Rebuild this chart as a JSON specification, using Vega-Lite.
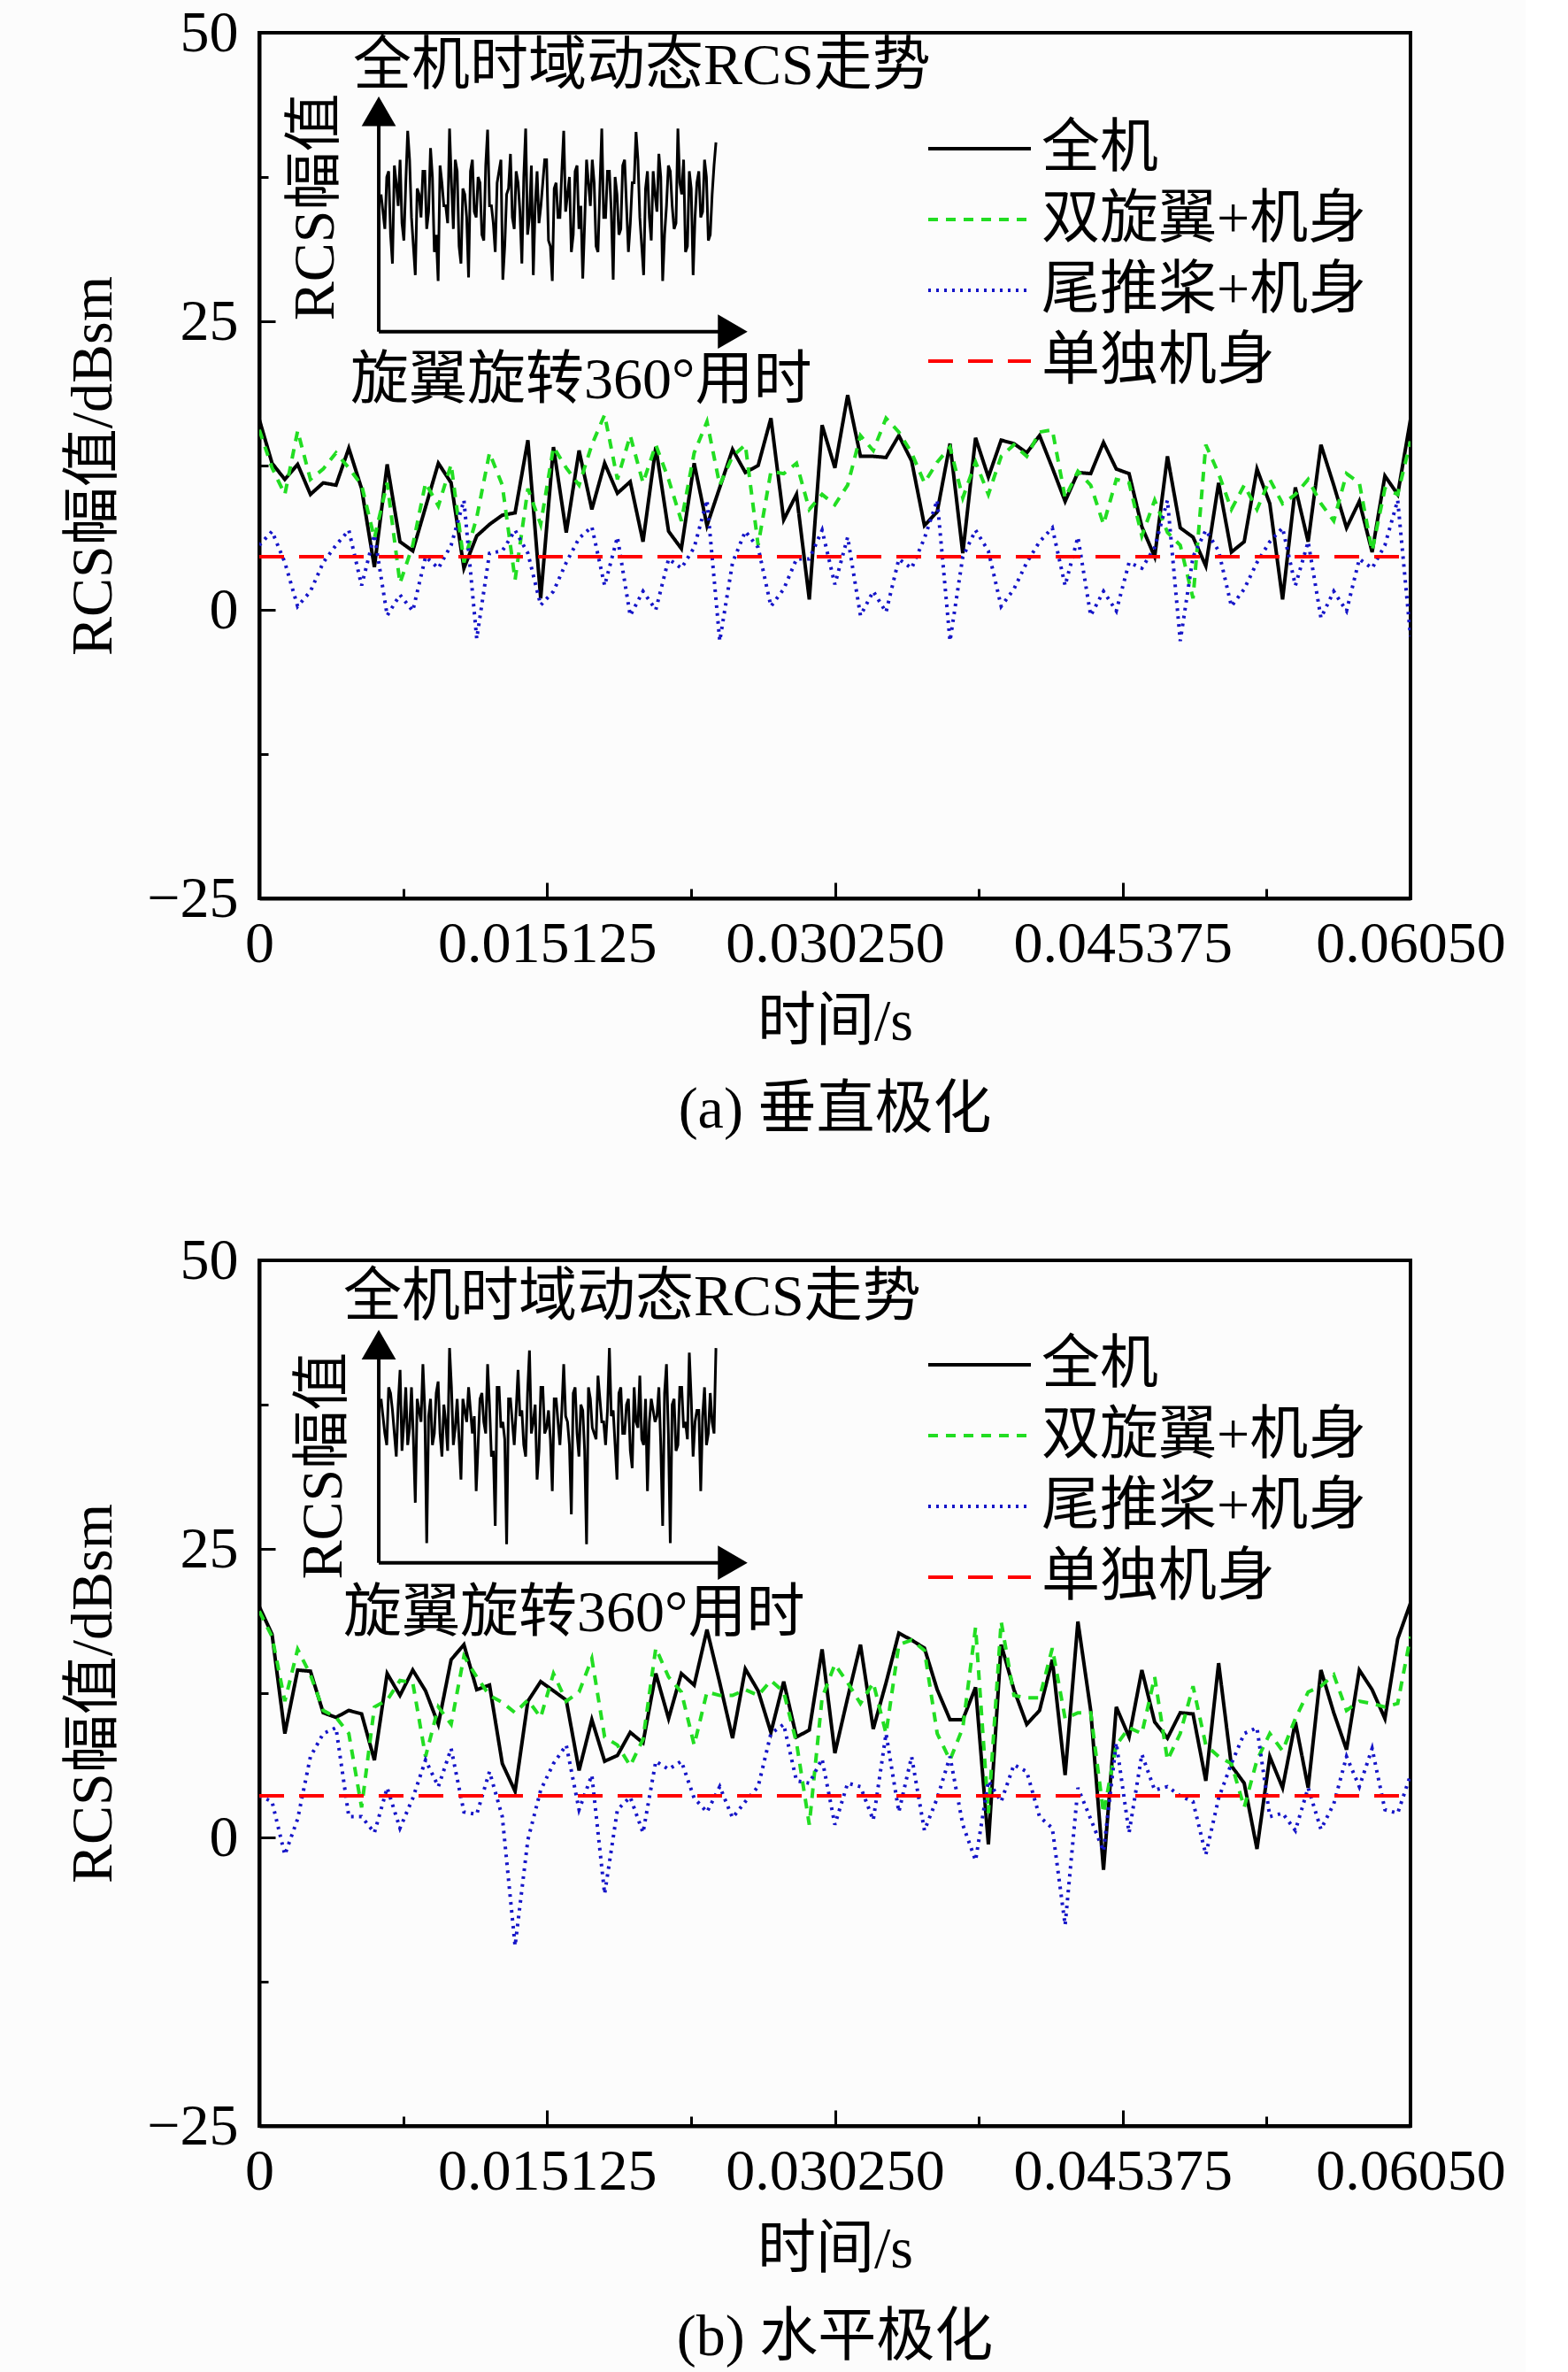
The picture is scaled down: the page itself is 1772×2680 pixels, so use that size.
{
  "$schema": "https://vega.github.io/schema/vega-lite/v6.json",
  "background": "#fcfcfc",
  "padding": {"left": 70, "top": 2, "right": 20, "bottom": 10},
  "spacing": 409,
  "bounds": "flush",
  "resolve": {
    "scale": {"color": "independent", "strokeDash": "independent"},
    "legend": {"color": "independent", "strokeDash": "independent"}
  },
  "config": {
    "font": "Liberation Serif, Noto Sans CJK SC",
    "view": {"stroke": "#000000", "strokeWidth": 4},
    "axis": {
      "grid": false,
      "domainColor": "#000000",
      "domainWidth": 4,
      "tickColor": "#000000",
      "tickWidth": 3,
      "labelFont": "Liberation Serif, Noto Sans CJK SC",
      "labelFontSize": 66,
      "labelColor": "#000000",
      "labelLimit": 0,
      "titleFont": "Liberation Serif, Noto Sans CJK SC",
      "titleFontSize": 66,
      "titleFontWeight": "normal",
      "titleColor": "#000000",
      "labelOverlap": false,
      "labelFlush": false
    },
    "legend": {
      "labelFont": "Liberation Serif, Noto Sans CJK SC",
      "labelFontSize": 66,
      "labelColor": "#000000",
      "labelLimit": 0,
      "symbolType": "stroke",
      "symbolStrokeWidth": 4,
      "symbolSize": 13456,
      "labelOffset": 10,
      "clipHeight": 78,
      "rowPadding": 2,
      "padding": 0,
      "orient": "none"
    },
    "title": {"font": "Liberation Serif, Noto Sans CJK SC", "fontSize": 66, "fontWeight": "normal", "color": "#000000"}
  },
  "datasets": {
    "vert": [
      {"t":0,"全机":16.5,"双旋翼+机身":15.6,"尾推桨+机身":5.6,"单独机身":4.6},
      {"t":0.000672,"全机":12.7,"双旋翼+机身":12.3,"尾推桨+机身":6.8,"单独机身":4.6},
      {"t":0.001344,"全机":11.3,"双旋翼+机身":10.0,"尾推桨+机身":4.1,"单独机身":4.6},
      {"t":0.002017,"全机":12.6,"双旋翼+机身":15.5,"尾推桨+机身":0.3,"单独机身":4.6},
      {"t":0.002689,"全机":10.0,"双旋翼+机身":11.3,"尾推桨+机身":1.6,"单独机身":4.6},
      {"t":0.003361,"全机":11.0,"双旋翼+机身":12.2,"尾推桨+机身":4.1,"单独机身":4.6},
      {"t":0.004033,"全机":10.8,"双旋翼+机身":13.6,"尾推桨+机身":5.6,"单独机身":4.6},
      {"t":0.004706,"全机":14.0,"双旋翼+机身":12.3,"尾推桨+机身":6.9,"单独机身":4.6},
      {"t":0.005378,"全机":10.5,"双旋翼+机身":10.8,"尾推桨+机身":2.1,"单独机身":4.6},
      {"t":0.00605,"全机":3.7,"双旋翼+机身":6.2,"尾推桨+机身":6.5,"单独机身":4.6},
      {"t":0.006722,"全机":12.6,"双旋翼+机身":11.0,"尾推桨+机身":-0.5,"单独机身":4.6},
      {"t":0.007394,"全机":5.9,"双旋翼+机身":2.3,"尾推桨+机身":1.3,"单独机身":4.6},
      {"t":0.008067,"全机":5.1,"双旋翼+机身":5.6,"尾推桨+机身":-0.1,"单独机身":4.6},
      {"t":0.008739,"全机":8.9,"双旋翼+机身":11.0,"尾推桨+机身":4.6,"单独机身":4.6},
      {"t":0.009411,"全机":12.7,"双旋翼+机身":9.0,"尾推桨+机身":3.6,"单独机身":4.6},
      {"t":0.010083,"全机":11.0,"双旋翼+机身":12.6,"尾推桨+机身":5.6,"单独机身":4.6},
      {"t":0.010756,"全机":3.6,"双旋翼+机身":4.1,"尾推桨+机身":9.5,"单独机身":4.6},
      {"t":0.011428,"全机":6.4,"双旋翼+机身":8.0,"尾推桨+机身":-2.5,"单独机身":4.6},
      {"t":0.0121,"全机":7.4,"双旋翼+机身":13.6,"尾推桨+机身":4.9,"单独机身":4.6},
      {"t":0.012772,"全机":8.2,"双旋翼+机身":10.8,"尾推桨+机身":5.1,"单独机身":4.6},
      {"t":0.013444,"全机":8.4,"双旋翼+机身":2.6,"尾推桨+机身":6.9,"单独机身":4.6},
      {"t":0.014117,"全机":14.7,"双旋翼+机身":10.5,"尾推桨+机身":4.9,"单独机身":4.6},
      {"t":0.014789,"全机":1.0,"双旋翼+机身":7.4,"尾推桨+机身":0.4,"单独机身":4.6},
      {"t":0.015461,"全机":14.1,"双旋翼+机身":14.1,"尾推桨+机身":1.6,"单独机身":4.6},
      {"t":0.016133,"全机":6.7,"双旋翼+机身":12.3,"尾推桨+机身":4.1,"单独机身":4.6},
      {"t":0.016806,"全机":13.8,"双旋翼+机身":10.8,"尾推桨+机身":6.2,"单独机身":4.6},
      {"t":0.017478,"全机":8.7,"双旋翼+机身":14.3,"尾推桨+机身":7.2,"单独机身":4.6},
      {"t":0.01815,"全机":12.7,"双旋翼+机身":16.9,"尾推桨+机身":2.1,"单独机身":4.6},
      {"t":0.018822,"全机":10.1,"双旋翼+机身":11.3,"尾推桨+机身":6.3,"单独机身":4.6},
      {"t":0.019494,"全机":11.1,"双旋翼+机身":15.1,"尾推桨+机身":-0.5,"单独机身":4.6},
      {"t":0.020167,"全机":5.9,"双旋翼+机身":11.0,"尾推桨+机身":1.6,"单独机身":4.6},
      {"t":0.020839,"全机":14.1,"双旋翼+机身":14.3,"尾推桨+机身":0.0,"单独机身":4.6},
      {"t":0.021511,"全机":6.8,"双旋翼+机身":11.3,"尾推桨+机身":4.4,"单独机身":4.6},
      {"t":0.022183,"全机":5.3,"双旋翼+机身":7.7,"尾推桨+机身":3.6,"单独机身":4.6},
      {"t":0.022856,"全机":12.7,"双旋翼+机身":13.6,"尾推桨+机身":5.4,"单独机身":4.6},
      {"t":0.023528,"全机":7.3,"双旋翼+机身":16.3,"尾推桨+机身":9.5,"单独机身":4.6},
      {"t":0.0242,"全机":10.6,"双旋翼+机身":10.8,"尾推桨+机身":-2.7,"单独机身":4.6},
      {"t":0.024872,"全机":13.9,"双旋翼+机身":13.3,"尾推桨+机身":4.1,"单独机身":4.6},
      {"t":0.025544,"全机":11.9,"双旋翼+机身":14.3,"尾推桨+机身":6.8,"单独机身":4.6},
      {"t":0.026217,"全机":12.5,"双旋翼+机身":5.6,"尾推桨+机身":5.4,"单独机身":4.6},
      {"t":0.026889,"全机":16.6,"双旋翼+机身":12.0,"尾推桨+机身":0.3,"单独机身":4.6},
      {"t":0.027561,"全机":7.8,"双旋翼+机身":11.8,"尾推桨+机身":1.8,"单独机身":4.6},
      {"t":0.028233,"全机":10.0,"双旋翼+机身":12.7,"尾推桨+机身":4.4,"单独机身":4.6},
      {"t":0.028906,"全机":0.9,"双旋翼+机身":8.7,"尾推桨+机身":4.4,"单独机身":4.6},
      {"t":0.029578,"全机":16.0,"双旋翼+机身":10.0,"尾推桨+机身":6.9,"单独机身":4.6},
      {"t":0.03025,"全机":12.3,"双旋翼+机身":9.1,"尾推桨+机身":2.2,"单独机身":4.6},
      {"t":0.030922,"全机":18.6,"双旋翼+机身":10.8,"尾推桨+机身":6.3,"单独机身":4.6},
      {"t":0.031594,"全机":13.3,"双旋翼+机身":15.1,"尾推桨+机身":-0.5,"单独机身":4.6},
      {"t":0.032267,"全机":13.3,"双旋翼+机身":13.8,"尾推桨+机身":1.6,"单独机身":4.6},
      {"t":0.032939,"全机":13.2,"双旋翼+机身":16.6,"尾推桨+机身":-0.2,"单独机身":4.6},
      {"t":0.033611,"全机":15.1,"双旋翼+机身":15.4,"尾推桨+机身":4.4,"单独机身":4.6},
      {"t":0.034283,"全机":12.9,"双旋翼+机身":13.6,"尾推桨+机身":3.6,"单独机身":4.6},
      {"t":0.034956,"全机":7.3,"双旋翼+机身":11.0,"尾推桨+机身":6.2,"单独机身":4.6},
      {"t":0.035628,"全机":8.5,"双旋翼+机身":12.8,"尾推桨+机身":9.5,"单独机身":4.6},
      {"t":0.0363,"全机":14.4,"双旋翼+机身":14.1,"尾推桨+机身":-2.7,"单独机身":4.6},
      {"t":0.036972,"全机":4.9,"双旋翼+机身":9.7,"尾推桨+机身":4.6,"单独机身":4.6},
      {"t":0.037644,"全机":14.9,"双旋翼+机身":12.8,"尾推桨+机身":6.9,"单独机身":4.6},
      {"t":0.038317,"全机":11.5,"双旋翼+机身":10.0,"尾推桨+机身":5.1,"单独机身":4.6},
      {"t":0.038989,"全机":14.7,"双旋翼+机身":13.3,"尾推桨+机身":0.3,"单独机身":4.6},
      {"t":0.039661,"全机":14.4,"双旋翼+机身":14.3,"尾推桨+机身":1.8,"单独机身":4.6},
      {"t":0.040333,"全机":13.6,"双旋翼+机身":13.3,"尾推桨+机身":4.1,"单独机身":4.6},
      {"t":0.041006,"全机":15.1,"双旋翼+机身":15.4,"尾推桨+机身":5.9,"单独机身":4.6},
      {"t":0.041678,"全机":12.3,"双旋翼+机身":15.6,"尾推桨+机身":7.1,"单独机身":4.6},
      {"t":0.04235,"全机":9.4,"双旋翼+机身":9.7,"尾推桨+机身":2.1,"单独机身":4.6},
      {"t":0.043022,"全机":11.9,"双旋翼+机身":12.0,"尾推桨+机身":6.3,"单独机身":4.6},
      {"t":0.043694,"全机":11.8,"双旋翼+机身":10.8,"尾推桨+机身":-0.5,"单独机身":4.6},
      {"t":0.044367,"全机":14.5,"双旋翼+机身":7.4,"尾推桨+机身":1.6,"单独机身":4.6},
      {"t":0.045039,"全机":12.2,"双旋翼+机身":11.3,"尾推桨+机身":-0.1,"单独机身":4.6},
      {"t":0.045711,"全机":11.8,"双旋翼+机身":11.0,"尾推桨+机身":4.1,"单独机身":4.6},
      {"t":0.046383,"全机":7.2,"双旋翼+机身":6.4,"尾推桨+机身":3.6,"单独机身":4.6},
      {"t":0.047056,"全机":4.6,"双旋翼+机身":9.5,"尾推桨+机身":5.4,"单独机身":4.6},
      {"t":0.047728,"全机":13.3,"双旋翼+机身":6.7,"尾推桨+机身":9.5,"单独机身":4.6},
      {"t":0.0484,"全机":7.1,"双旋翼+机身":5.6,"尾推桨+机身":-2.7,"单独机身":4.6},
      {"t":0.049072,"全机":6.3,"双旋翼+机身":1.0,"尾推桨+机身":4.6,"单独机身":4.6},
      {"t":0.049744,"全机":3.8,"双旋翼+机身":14.3,"尾推桨+机身":6.9,"单独机身":4.6},
      {"t":0.050417,"全机":11.0,"双旋翼+机身":11.8,"尾推桨+机身":5.1,"单独机身":4.6},
      {"t":0.051089,"全机":5.0,"双旋翼+机身":8.7,"尾推桨+机身":0.3,"单独机身":4.6},
      {"t":0.051761,"全机":5.9,"双旋翼+机身":10.8,"尾推桨+机身":1.8,"单独机身":4.6},
      {"t":0.052433,"全机":12.2,"双旋翼+机身":8.7,"尾推桨+机身":4.1,"单独机身":4.6},
      {"t":0.053106,"全机":9.2,"双旋翼+机身":11.3,"尾推桨+机身":5.9,"单独机身":4.6},
      {"t":0.053778,"全机":0.9,"双旋翼+机身":9.2,"尾推桨+机身":7.1,"单独机身":4.6},
      {"t":0.05445,"全机":10.6,"双旋翼+机身":10.0,"尾推桨+机身":2.1,"单独机身":4.6},
      {"t":0.055122,"全机":5.9,"双旋翼+机身":11.3,"尾推桨+机身":5.9,"单独机身":4.6},
      {"t":0.055794,"全机":14.3,"双旋翼+机身":9.2,"尾推桨+机身":-0.7,"单独机身":4.6},
      {"t":0.056467,"全机":10.8,"双旋翼+机身":7.7,"尾推桨+机身":1.6,"单独机身":4.6},
      {"t":0.057139,"全机":7.1,"双旋翼+机身":11.8,"尾推桨+机身":-0.1,"单独机身":4.6},
      {"t":0.057811,"全机":9.4,"双旋翼+机身":11.0,"尾推桨+机身":4.4,"单独机身":4.6},
      {"t":0.058483,"全机":5.0,"双旋翼+机身":5.1,"尾推桨+机身":3.6,"单独机身":4.6},
      {"t":0.059156,"全机":11.6,"双旋翼+机身":10.5,"尾推桨+机身":5.6,"单独机身":4.6},
      {"t":0.059828,"全机":10.0,"双旋翼+机身":10.0,"尾推桨+机身":9.5,"单独机身":4.6},
      {"t":0.0605,"全机":16.5,"双旋翼+机身":14.6,"尾推桨+机身":-2.3,"单独机身":4.6}
    ],
    "horiz": [
      {"t":0,"全机":20.0,"双旋翼+机身":19.6,"尾推桨+机身":3.6,"单独机身":3.6},
      {"t":0.000672,"全机":17.6,"双旋翼+机身":17.4,"尾推桨+机身":3.1,"单独机身":3.6},
      {"t":0.001344,"全机":9.0,"双旋翼+机身":11.8,"尾推桨+机身":-1.5,"单独机身":3.6},
      {"t":0.002017,"全机":14.5,"双旋翼+机身":16.3,"尾推桨+机身":1.6,"单独机身":3.6},
      {"t":0.002689,"全机":14.4,"双旋翼+机身":14.1,"尾推桨+机身":7.0,"单独机身":3.6},
      {"t":0.003361,"全机":10.8,"双旋翼+机身":11.0,"尾推桨+机身":9.0,"单独机身":3.6},
      {"t":0.004033,"全机":10.4,"双旋翼+机身":10.4,"尾推桨+机身":9.5,"单独机身":3.6},
      {"t":0.004706,"全机":11.0,"双旋翼+机身":9.0,"尾推桨+机身":1.8,"单独机身":3.6},
      {"t":0.005378,"全机":10.7,"双旋翼+机身":2.6,"尾推桨+机身":1.8,"单独机身":3.6},
      {"t":0.00605,"全机":6.7,"双旋翼+机身":11.3,"尾推桨+机身":0.4,"单独机身":3.6},
      {"t":0.006722,"全机":14.2,"双旋翼+机身":11.9,"尾推桨+机身":4.3,"单独机身":3.6},
      {"t":0.007394,"全机":12.3,"双旋翼+机身":13.6,"尾推桨+机身":0.8,"单独机身":3.6},
      {"t":0.008067,"全机":14.5,"双旋翼+机身":13.4,"尾推桨+机身":3.4,"单独机身":3.6},
      {"t":0.008739,"全机":12.7,"双旋翼+机身":7.0,"尾推桨+机身":6.7,"单独机身":3.6},
      {"t":0.009411,"全机":9.8,"双旋翼+机身":11.3,"尾推桨+机身":4.4,"单独机身":3.6},
      {"t":0.010083,"全机":15.4,"双旋翼+机身":9.8,"尾推桨+机身":7.7,"单独机身":3.6},
      {"t":0.010756,"全机":16.7,"双旋翼+机身":15.7,"尾推桨+机身":2.2,"单独机身":3.6},
      {"t":0.011428,"全机":12.8,"双旋翼+机身":13.9,"尾推桨+机身":2.0,"单独机身":3.6},
      {"t":0.0121,"全机":13.2,"双旋翼+机身":12.3,"尾推桨+机身":5.7,"单独机身":3.6},
      {"t":0.012772,"全机":6.4,"双旋翼+机身":11.7,"尾推桨+机身":1.8,"单独机身":3.6},
      {"t":0.013444,"全机":4.0,"双旋翼+机身":10.8,"尾推桨+机身":-9.4,"单独机身":3.6},
      {"t":0.014117,"全机":11.8,"双旋翼+机身":11.9,"尾推桨+机身":-0.2,"单独机身":3.6},
      {"t":0.014789,"全机":13.5,"双旋翼+机身":10.4,"尾推桨+机身":4.1,"单独机身":3.6},
      {"t":0.015461,"全机":12.7,"双旋翼+机身":14.2,"尾推桨+机身":6.4,"单独机身":3.6},
      {"t":0.016133,"全机":11.9,"双旋翼+机身":11.8,"尾推桨+机身":8.0,"单独机身":3.6},
      {"t":0.016806,"全机":5.8,"双旋翼+机身":12.6,"尾推桨+机身":2.4,"单独机身":3.6},
      {"t":0.017478,"全机":10.2,"双旋翼+机身":15.5,"尾推桨+机身":5.4,"单独机身":3.6},
      {"t":0.01815,"全机":6.6,"双旋翼+机身":8.7,"尾推桨+机身":-4.9,"单独机身":3.6},
      {"t":0.018822,"全机":7.1,"双旋翼+机身":8.0,"尾推桨+机身":2.4,"单独机身":3.6},
      {"t":0.019494,"全机":9.1,"双旋翼+机身":6.2,"尾推桨+机身":3.5,"单独机身":3.6},
      {"t":0.020167,"全机":8.2,"双旋翼+机身":8.5,"尾推桨+机身":0.4,"单独机身":3.6},
      {"t":0.020839,"全机":14.2,"双旋翼+机身":16.4,"尾推桨+机身":6.6,"单独机身":3.6},
      {"t":0.021511,"全机":10.3,"双旋翼+机身":13.9,"尾推桨+机身":5.9,"单独机身":3.6},
      {"t":0.022183,"全机":14.2,"双旋翼+机身":12.6,"尾推桨+机身":6.6,"单独机身":3.6},
      {"t":0.022856,"全机":13.2,"双旋翼+机身":8.0,"尾推桨+机身":3.4,"单独机身":3.6},
      {"t":0.023528,"全机":18.0,"双旋翼+机身":12.6,"尾推桨+机身":2.2,"单独机身":3.6},
      {"t":0.0242,"全机":13.4,"双旋翼+机身":12.3,"尾推桨+机身":4.4,"单独机身":3.6},
      {"t":0.024872,"全机":8.6,"双旋翼+机身":12.3,"尾推桨+机身":1.7,"单独机身":3.6},
      {"t":0.025544,"全机":14.6,"双旋翼+机身":12.8,"尾推桨+机身":3.1,"单独机身":3.6},
      {"t":0.026217,"全机":12.7,"双旋翼+机身":12.3,"尾推桨+机身":4.4,"单独机身":3.6},
      {"t":0.026889,"全机":9.1,"双旋翼+机身":13.6,"尾推桨+机身":9.0,"单独机身":3.6},
      {"t":0.027561,"全机":13.5,"双旋翼+机身":12.6,"尾推桨+机身":9.8,"单独机身":3.6},
      {"t":0.028233,"全机":8.7,"双旋翼+机身":8.2,"尾推桨+机身":4.9,"单独机身":3.6},
      {"t":0.028906,"全机":9.3,"双旋翼+机身":1.1,"尾推桨+机身":4.7,"单独机身":3.6},
      {"t":0.029578,"全机":16.3,"双旋翼+机身":12.1,"尾推桨+机身":6.8,"单独机身":3.6},
      {"t":0.03025,"全机":7.3,"双旋翼+机身":15.0,"尾推桨+机身":1.1,"单独机身":3.6},
      {"t":0.030922,"全机":12.1,"双旋翼+机身":13.4,"尾推桨+机身":4.7,"单独机身":3.6},
      {"t":0.031594,"全机":16.7,"双旋翼+机身":11.6,"尾推桨+机身":4.4,"单独机身":3.6},
      {"t":0.032267,"全机":9.4,"双旋翼+机身":13.4,"尾推桨+机身":1.5,"单独机身":3.6},
      {"t":0.032939,"全机":13.4,"双旋翼+机身":9.0,"尾推桨+机身":9.0,"单独机身":3.6},
      {"t":0.033611,"全机":17.7,"双旋翼+机身":16.7,"尾推桨+机身":2.2,"单独机身":3.6},
      {"t":0.034283,"全机":17.1,"双旋翼+机身":17.1,"尾推桨+机身":7.0,"单独机身":3.6},
      {"t":0.034956,"全机":16.4,"双旋翼+机身":16.2,"尾推桨+机身":0.6,"单独机身":3.6},
      {"t":0.035628,"全机":12.8,"双旋翼+机身":9.0,"尾推桨+机身":3.4,"单独机身":3.6},
      {"t":0.0363,"全机":10.2,"双旋翼+机身":6.7,"尾推桨+机身":7.0,"单独机身":3.6},
      {"t":0.036972,"全机":10.2,"双旋翼+机身":9.5,"尾推桨+机身":1.1,"单独机身":3.6},
      {"t":0.037644,"全机":13.0,"双旋翼+机身":18.2,"尾推桨+机身":-2.0,"单独机身":3.6},
      {"t":0.038317,"全机":-0.6,"双旋翼+机身":2.1,"尾推桨+机身":4.9,"单独机身":3.6},
      {"t":0.038989,"全机":16.7,"双旋翼+机身":18.7,"尾推桨+机身":3.1,"单独机身":3.6},
      {"t":0.039661,"全机":12.8,"双旋翼+机身":12.3,"尾推桨+机身":6.3,"单独机身":3.6},
      {"t":0.040333,"全机":9.8,"双旋翼+机身":12.1,"尾推桨+机身":5.7,"单独机身":3.6},
      {"t":0.041006,"全机":11.0,"双旋翼+机身":12.1,"尾推桨+机身":1.8,"单独机身":3.6},
      {"t":0.041678,"全机":15.4,"双旋翼+机身":16.4,"尾推桨+机身":0.8,"单独机身":3.6},
      {"t":0.04235,"全机":5.4,"双旋翼+机身":10.3,"尾推桨+机身":-7.6,"单独机身":3.6},
      {"t":0.043022,"全机":18.7,"双旋翼+机身":10.8,"尾推桨+机身":4.3,"单独机身":3.6},
      {"t":0.043694,"全机":11.0,"双旋翼+机身":10.8,"尾推桨+机身":1.6,"单独机身":3.6},
      {"t":0.044367,"全机":-2.8,"双旋翼+机身":2.1,"尾推桨+机身":-1.2,"单独机身":3.6},
      {"t":0.045039,"全机":11.3,"双旋翼+机身":8.0,"尾推桨+机身":8.2,"单独机身":3.6},
      {"t":0.045711,"全机":8.7,"双旋翼+机身":9.5,"尾推桨+机身":0.4,"单独机身":3.6},
      {"t":0.046383,"全机":14.5,"双旋翼+机身":9.0,"尾推桨+机身":7.2,"单独机身":3.6},
      {"t":0.047056,"全机":10.0,"双旋翼+机身":13.9,"尾推桨+机身":4.1,"单独机身":3.6},
      {"t":0.047728,"全机":8.6,"双旋翼+机身":6.7,"尾推桨+机身":4.4,"单独机身":3.6},
      {"t":0.0484,"全机":10.8,"双旋翼+机身":9.0,"尾推桨+机身":3.6,"单独机身":3.6},
      {"t":0.049072,"全机":10.7,"双旋翼+机身":13.1,"尾推桨+机身":3.1,"单独机身":3.6},
      {"t":0.049744,"全机":4.9,"双旋翼+机身":8.0,"尾推桨+机身":-1.5,"单独机身":3.6},
      {"t":0.050417,"全机":15.1,"双旋翼+机身":7.0,"尾推桨+机身":3.4,"单独机身":3.6},
      {"t":0.051089,"全机":6.2,"双旋翼+机身":6.4,"尾推桨+机身":6.4,"单独机身":3.6},
      {"t":0.051761,"全机":4.7,"双旋翼+机身":2.6,"尾推桨+机身":9.0,"单独机身":3.6},
      {"t":0.052433,"全机":-1.0,"双旋翼+机身":6.7,"尾推桨+机身":9.5,"单独机身":3.6},
      {"t":0.053106,"全机":7.0,"双旋翼+机身":9.0,"尾推桨+机身":1.8,"单独机身":3.6},
      {"t":0.053778,"全机":4.3,"双旋翼+机身":7.5,"尾推桨+机身":2.1,"单独机身":3.6},
      {"t":0.05445,"全机":10.0,"双旋翼+机身":10.3,"尾推桨+机身":0.6,"单独机身":3.6},
      {"t":0.055122,"全机":4.3,"双旋翼+机身":12.6,"尾推桨+机身":4.3,"单独机身":3.6},
      {"t":0.055794,"全机":14.5,"双旋翼+机身":13.1,"尾推桨+机身":0.7,"单独机身":3.6},
      {"t":0.056467,"全机":10.8,"双旋翼+机身":14.1,"尾推桨+机身":2.9,"单独机身":3.6},
      {"t":0.057139,"全机":7.6,"双旋翼+机身":11.0,"尾推桨+机身":7.0,"单独机身":3.6},
      {"t":0.057811,"全机":14.5,"双旋翼+机身":11.8,"尾推桨+机身":4.4,"单独机身":3.6},
      {"t":0.058483,"全机":12.8,"双旋翼+机身":11.6,"尾推桨+机身":7.7,"单独机身":3.6},
      {"t":0.059156,"全机":10.3,"双旋翼+机身":11.3,"尾推桨+机身":2.4,"单独机身":3.6},
      {"t":0.059828,"全机":17.2,"双旋翼+机身":11.6,"尾推桨+机身":2.1,"单独机身":3.6},
      {"t":0.0605,"全机":20.3,"双旋翼+机身":17.4,"尾推桨+机身":5.4,"单独机身":3.6}
    ],
    "inset_a": [
      {"t":0.0064,"RCS":36},{"t":0.0065,"RCS":34.5},{"t":0.0066,"RCS":33},{"t":0.0067,"RCS":37.5},
      {"t":0.0068,"RCS":38},{"t":0.0069,"RCS":32.5},{"t":0.0070,"RCS":30},{"t":0.0071,"RCS":38.5},
      {"t":0.0072,"RCS":37},{"t":0.0073,"RCS":35},{"t":0.0074,"RCS":39},{"t":0.0075,"RCS":33.5},
      {"t":0.0076,"RCS":32},{"t":0.0077,"RCS":37},{"t":0.0078,"RCS":41.5},{"t":0.0079,"RCS":39},
      {"t":0.0080,"RCS":34},{"t":0.0081,"RCS":31.5},{"t":0.0082,"RCS":29},{"t":0.0083,"RCS":36.5},
      {"t":0.0084,"RCS":36},{"t":0.0085,"RCS":34},{"t":0.0086,"RCS":38},{"t":0.0087,"RCS":38},
      {"t":0.0088,"RCS":33},{"t":0.0089,"RCS":34.5},{"t":0.0090,"RCS":40},{"t":0.0091,"RCS":37.5},
      {"t":0.0092,"RCS":31},{"t":0.0093,"RCS":32.5},{"t":0.0094,"RCS":28.5},{"t":0.0095,"RCS":38.5},
      {"t":0.0096,"RCS":37},{"t":0.0097,"RCS":35},{"t":0.0098,"RCS":35},{"t":0.0099,"RCS":33.5},
      {"t":0.0100,"RCS":41.7},{"t":0.0101,"RCS":37},{"t":0.0102,"RCS":33},{"t":0.0103,"RCS":39},
      {"t":0.0104,"RCS":38},{"t":0.0105,"RCS":31.5},{"t":0.0106,"RCS":30},{"t":0.0107,"RCS":36.5},
      {"t":0.0108,"RCS":36},{"t":0.0109,"RCS":34},{"t":0.0110,"RCS":28.8},{"t":0.0111,"RCS":38},
      {"t":0.0112,"RCS":39},{"t":0.0113,"RCS":34.5},{"t":0.0114,"RCS":34},{"t":0.0115,"RCS":37.5},
      {"t":0.0116,"RCS":37},{"t":0.0117,"RCS":32.5},{"t":0.0118,"RCS":32},{"t":0.0119,"RCS":38.5},
      {"t":0.0120,"RCS":41.6},{"t":0.0121,"RCS":35},{"t":0.0122,"RCS":35},{"t":0.0123,"RCS":33.5},
      {"t":0.0124,"RCS":31},{"t":0.0125,"RCS":37},{"t":0.0126,"RCS":38},{"t":0.0127,"RCS":39},
      {"t":0.0128,"RCS":28.6},{"t":0.0129,"RCS":31.5},{"t":0.0130,"RCS":36},{"t":0.0131,"RCS":36.5},
      {"t":0.0132,"RCS":39.5},{"t":0.0133,"RCS":34},{"t":0.0134,"RCS":33},{"t":0.0135,"RCS":38},
      {"t":0.0136,"RCS":37},{"t":0.0137,"RCS":34.5},{"t":0.0138,"RCS":30},{"t":0.0139,"RCS":37.5},
      {"t":0.0140,"RCS":41.7},{"t":0.0141,"RCS":32.5},{"t":0.0142,"RCS":34},{"t":0.0143,"RCS":38.5},
      {"t":0.0144,"RCS":29},{"t":0.0145,"RCS":35},{"t":0.0146,"RCS":38},{"t":0.0147,"RCS":33.5},
      {"t":0.0148,"RCS":35},{"t":0.0149,"RCS":37},{"t":0.0150,"RCS":39},{"t":0.0151,"RCS":39},
      {"t":0.0152,"RCS":32},{"t":0.0153,"RCS":31.5},{"t":0.0154,"RCS":28.5},{"t":0.0155,"RCS":36.5},
      {"t":0.0156,"RCS":37},{"t":0.0157,"RCS":34},{"t":0.0158,"RCS":34},{"t":0.0159,"RCS":38},
      {"t":0.0160,"RCS":41.5},{"t":0.0161,"RCS":34.5},{"t":0.0162,"RCS":36},{"t":0.0163,"RCS":37.5},
      {"t":0.0164,"RCS":31},{"t":0.0165,"RCS":32.5},{"t":0.0166,"RCS":38},{"t":0.0167,"RCS":38.5},
      {"t":0.0168,"RCS":33},{"t":0.0169,"RCS":35},{"t":0.0170,"RCS":28.7},{"t":0.0171,"RCS":33.5},
      {"t":0.0172,"RCS":39},{"t":0.0173,"RCS":37},{"t":0.0174,"RCS":35},{"t":0.0175,"RCS":39},
      {"t":0.0176,"RCS":37},{"t":0.0177,"RCS":31.5},{"t":0.0178,"RCS":31},{"t":0.0179,"RCS":36.5},
      {"t":0.0180,"RCS":41.7},{"t":0.0181,"RCS":34},{"t":0.0182,"RCS":34},{"t":0.0183,"RCS":38},
      {"t":0.0184,"RCS":38},{"t":0.0185,"RCS":34.5},{"t":0.0186,"RCS":28.6},{"t":0.0187,"RCS":37.5},
      {"t":0.0188,"RCS":36},{"t":0.0189,"RCS":32.5},{"t":0.0190,"RCS":33},{"t":0.0191,"RCS":38.5},
      {"t":0.0192,"RCS":39},{"t":0.0193,"RCS":35},{"t":0.0194,"RCS":31},{"t":0.0195,"RCS":33.5},
      {"t":0.0196,"RCS":37},{"t":0.0197,"RCS":37},{"t":0.0198,"RCS":41.4},{"t":0.0199,"RCS":39},
      {"t":0.0200,"RCS":34},{"t":0.0201,"RCS":31.5},{"t":0.0202,"RCS":29},{"t":0.0203,"RCS":36.5},
      {"t":0.0204,"RCS":38},{"t":0.0205,"RCS":34},{"t":0.0206,"RCS":32},{"t":0.0207,"RCS":38},
      {"t":0.0208,"RCS":36},{"t":0.0209,"RCS":34.5},{"t":0.0210,"RCS":39.5},{"t":0.0211,"RCS":37.5},
      {"t":0.0212,"RCS":28.5},{"t":0.0213,"RCS":32.5},{"t":0.0214,"RCS":35},{"t":0.0215,"RCS":38.5},
      {"t":0.0216,"RCS":38},{"t":0.0217,"RCS":35},{"t":0.0218,"RCS":33},{"t":0.0219,"RCS":33.5},
      {"t":0.0220,"RCS":41.7},{"t":0.0221,"RCS":37},{"t":0.0222,"RCS":36},{"t":0.0223,"RCS":39},
      {"t":0.0224,"RCS":31},{"t":0.0225,"RCS":31.5},{"t":0.0226,"RCS":38},{"t":0.0227,"RCS":36.5},
      {"t":0.0228,"RCS":29},{"t":0.0229,"RCS":34},{"t":0.0230,"RCS":37},{"t":0.0231,"RCS":38},
      {"t":0.0232,"RCS":34},{"t":0.0233,"RCS":34.5},{"t":0.0234,"RCS":39},{"t":0.0235,"RCS":37.5},
      {"t":0.0236,"RCS":32},{"t":0.0237,"RCS":32.5},{"t":0.0238,"RCS":36},{"t":0.0239,"RCS":38.5},
      {"t":0.0240,"RCS":40.5}
    ],
    "inset_b": [
      {"t":0.0064,"RCS":38},{"t":0.0065,"RCS":36.5},{"t":0.0066,"RCS":35},{"t":0.0067,"RCS":34},
      {"t":0.0068,"RCS":39},{"t":0.0069,"RCS":38.5},{"t":0.0070,"RCS":37},{"t":0.0071,"RCS":35},
      {"t":0.0072,"RCS":33},{"t":0.0073,"RCS":37.5},{"t":0.0074,"RCS":40.5},{"t":0.0075,"RCS":33.5},
      {"t":0.0076,"RCS":36},{"t":0.0077,"RCS":39},{"t":0.0078,"RCS":34},{"t":0.0079,"RCS":35.5},
      {"t":0.0080,"RCS":39},{"t":0.0081,"RCS":34.5},{"t":0.0082,"RCS":29},{"t":0.0083,"RCS":38},
      {"t":0.0084,"RCS":37},{"t":0.0085,"RCS":36},{"t":0.0086,"RCS":41},{"t":0.0087,"RCS":37},
      {"t":0.0088,"RCS":25.5},{"t":0.0089,"RCS":36.5},{"t":0.0090,"RCS":38},{"t":0.0091,"RCS":34},
      {"t":0.0092,"RCS":35},{"t":0.0093,"RCS":38.5},{"t":0.0094,"RCS":39.5},{"t":0.0095,"RCS":35},
      {"t":0.0096,"RCS":33},{"t":0.0097,"RCS":37.5},{"t":0.0098,"RCS":36},{"t":0.0099,"RCS":33.5},
      {"t":0.0100,"RCS":42.4},{"t":0.0101,"RCS":39},{"t":0.0102,"RCS":34},{"t":0.0103,"RCS":35.5},
      {"t":0.0104,"RCS":38},{"t":0.0105,"RCS":34.5},{"t":0.0106,"RCS":31},{"t":0.0107,"RCS":38},
      {"t":0.0108,"RCS":37},{"t":0.0109,"RCS":36},{"t":0.0110,"RCS":39},{"t":0.0111,"RCS":37},
      {"t":0.0112,"RCS":35},{"t":0.0113,"RCS":36.5},{"t":0.0114,"RCS":30},{"t":0.0115,"RCS":34},
      {"t":0.0116,"RCS":38},{"t":0.0117,"RCS":38.5},{"t":0.0118,"RCS":36},{"t":0.0119,"RCS":35},
      {"t":0.0120,"RCS":41},{"t":0.0121,"RCS":37.5},{"t":0.0122,"RCS":33},{"t":0.0123,"RCS":33.5},
      {"t":0.0124,"RCS":27},{"t":0.0125,"RCS":39},{"t":0.0126,"RCS":39},{"t":0.0127,"RCS":35.5},
      {"t":0.0128,"RCS":36},{"t":0.0129,"RCS":34.5},{"t":0.0130,"RCS":25.4},{"t":0.0131,"RCS":38},
      {"t":0.0132,"RCS":38},{"t":0.0133,"RCS":36},{"t":0.0134,"RCS":34},{"t":0.0135,"RCS":37},
      {"t":0.0136,"RCS":40.5},{"t":0.0137,"RCS":36.5},{"t":0.0138,"RCS":37},{"t":0.0139,"RCS":34},
      {"t":0.0140,"RCS":33},{"t":0.0141,"RCS":38.5},{"t":0.0142,"RCS":42.2},{"t":0.0143,"RCS":35},
      {"t":0.0144,"RCS":36},{"t":0.0145,"RCS":37.5},{"t":0.0146,"RCS":31},{"t":0.0147,"RCS":33.5},
      {"t":0.0148,"RCS":39},{"t":0.0149,"RCS":39},{"t":0.0150,"RCS":35},{"t":0.0151,"RCS":35.5},
      {"t":0.0152,"RCS":37},{"t":0.0153,"RCS":34.5},{"t":0.0154,"RCS":30},{"t":0.0155,"RCS":38},
      {"t":0.0156,"RCS":38},{"t":0.0157,"RCS":36},{"t":0.0158,"RCS":34},{"t":0.0159,"RCS":37},
      {"t":0.0160,"RCS":41},{"t":0.0161,"RCS":36.5},{"t":0.0162,"RCS":36},{"t":0.0163,"RCS":34},
      {"t":0.0164,"RCS":28},{"t":0.0165,"RCS":38.5},{"t":0.0166,"RCS":39},{"t":0.0167,"RCS":35},
      {"t":0.0168,"RCS":33},{"t":0.0169,"RCS":37.5},{"t":0.0170,"RCS":37},{"t":0.0171,"RCS":33.5},
      {"t":0.0172,"RCS":25.4},{"t":0.0173,"RCS":39},{"t":0.0174,"RCS":38},{"t":0.0175,"RCS":35.5},
      {"t":0.0176,"RCS":35},{"t":0.0177,"RCS":34.5},{"t":0.0178,"RCS":40},{"t":0.0179,"RCS":38},
      {"t":0.0180,"RCS":36},{"t":0.0181,"RCS":36},{"t":0.0182,"RCS":34},{"t":0.0183,"RCS":37},
      {"t":0.0184,"RCS":42.4},{"t":0.0185,"RCS":36.5},{"t":0.0186,"RCS":37},{"t":0.0187,"RCS":34},
      {"t":0.0188,"RCS":31},{"t":0.0189,"RCS":38.5},{"t":0.0190,"RCS":39},{"t":0.0191,"RCS":35},
      {"t":0.0192,"RCS":35},{"t":0.0193,"RCS":37.5},{"t":0.0194,"RCS":38},{"t":0.0195,"RCS":33.5},
      {"t":0.0196,"RCS":32},{"t":0.0197,"RCS":39},{"t":0.0198,"RCS":36},{"t":0.0199,"RCS":35.5},
      {"t":0.0200,"RCS":40},{"t":0.0201,"RCS":34.5},{"t":0.0202,"RCS":34},{"t":0.0203,"RCS":38},
      {"t":0.0204,"RCS":30},{"t":0.0205,"RCS":36},{"t":0.0206,"RCS":38},{"t":0.0207,"RCS":37},
      {"t":0.0208,"RCS":36},{"t":0.0209,"RCS":36.5},{"t":0.0210,"RCS":39},{"t":0.0211,"RCS":34},
      {"t":0.0212,"RCS":27},{"t":0.0213,"RCS":38.5},{"t":0.0214,"RCS":41},{"t":0.0215,"RCS":35},
      {"t":0.0216,"RCS":25.5},{"t":0.0217,"RCS":37.5},{"t":0.0218,"RCS":38},{"t":0.0219,"RCS":33.5},
      {"t":0.0220,"RCS":34},{"t":0.0221,"RCS":39},{"t":0.0222,"RCS":39},{"t":0.0223,"RCS":35.5},
      {"t":0.0224,"RCS":36},{"t":0.0225,"RCS":34.5},{"t":0.0226,"RCS":42},{"t":0.0227,"RCS":38},
      {"t":0.0228,"RCS":33},{"t":0.0229,"RCS":36},{"t":0.0230,"RCS":37},{"t":0.0231,"RCS":37},
      {"t":0.0232,"RCS":30},{"t":0.0233,"RCS":36.5},{"t":0.0234,"RCS":39},{"t":0.0235,"RCS":34},
      {"t":0.0236,"RCS":35},{"t":0.0237,"RCS":38.5},{"t":0.0238,"RCS":36},{"t":0.0239,"RCS":35},
      {"t":0.0240,"RCS":42.4}
    ]
  },
  "vconcat": [
    {
      "width": 1301,
      "height": 978,
      "title": {"text": "(a) 垂直极化", "orient": "bottom", "offset": 35},
      "layer": [
        {
          "data": {"name": "vert"},
          "transform": [{"fold": ["全机", "双旋翼+机身", "尾推桨+机身", "单独机身"], "as": ["系列", "RCS"]}],
          "mark": {"type": "line", "strokeWidth": 4, "clip": true},
          "encoding": {
            "x": {
              "field": "t", "type": "quantitative",
              "scale": {"domain": [0, 0.0605], "nice": false, "zero": false},
              "axis": {
                "title": "时间/s",
                "values": [0, 0.0075625, 0.015125, 0.0226875, 0.03025, 0.0378125, 0.045375, 0.0529375, 0.0605],
                "labelExpr": "datum.value < 1e-9 ? '0' : (round(datum.value*1e7) % 151250 != 0 ? '' : (round(datum.value*1e7) == 605000 ? '0.06050' : format(datum.value, '.6f')))",
                "tickSize": {"condition": {"test": "round(datum.value*1e7) % 151250 == 0", "value": -18}, "value": -11},
                "labelPadding": 37,
                "titlePadding": 16
              }
            },
            "y": {
              "field": "RCS", "type": "quantitative",
              "scale": {"domain": [-25, 50], "nice": false},
              "axis": {
                "title": "RCS幅值/dBsm",
                "values": [-25, -12.5, 0, 12.5, 25, 37.5, 50],
                "labelExpr": "datum.value % 25 == 0 ? datum.label : ''",
                "tickSize": {"condition": {"test": "datum.value % 25 == 0", "value": -18}, "value": -10},
                "labelPadding": 42,
                "titlePadding": 26
              }
            },
            "color": {
              "field": "系列", "type": "nominal",
              "scale": {"domain": ["全机", "双旋翼+机身", "尾推桨+机身", "单独机身"], "range": ["#000000", "#22dd22", "#1515c8", "#ff0000"]},
              "legend": {"title": null, "legendX": 754, "legendY": 92}
            },
            "strokeDash": {
              "field": "系列", "type": "nominal",
              "scale": {"domain": ["全机", "双旋翼+机身", "尾推桨+机身", "单独机身"], "range": [[1, 0], [11, 9], [3, 6], [28, 17]]},
              "legend": {"title": null, "legendX": 754, "legendY": 92}
            }
          }
        },
        {
          "data": {"name": "inset_a"},
          "mark": {"type": "line", "color": "#000000", "strokeWidth": 3},
          "encoding": {"x": {"field": "t", "type": "quantitative"}, "y": {"field": "RCS", "type": "quantitative"}}
        },
        {
          "data": {"values": [{}]},
          "mark": {"type": "rule", "color": "#000000", "strokeWidth": 4},
          "encoding": {"x": {"datum": 0.00628, "type": "quantitative"}, "y": {"datum": 24.1, "type": "quantitative"}, "y2": {"datum": 42.5}}
        },
        {
          "data": {"values": [{}]},
          "mark": {"type": "rule", "color": "#000000", "strokeWidth": 4},
          "encoding": {"x": {"datum": 0.00628, "type": "quantitative"}, "x2": {"datum": 0.0248}, "y": {"datum": 24.1, "type": "quantitative"}}
        },
        {
          "data": {"values": [{}]},
          "mark": {"type": "point", "shape": "triangle-up", "filled": true, "color": "#000000", "opacity": 1, "size": 1500},
          "encoding": {"x": {"datum": 0.00628, "type": "quantitative"}, "y": {"datum": 43.2, "type": "quantitative"}}
        },
        {
          "data": {"values": [{}]},
          "mark": {"type": "point", "shape": "triangle-right", "filled": true, "color": "#000000", "opacity": 1, "size": 1500},
          "encoding": {"x": {"datum": 0.02488, "type": "quantitative"}, "y": {"datum": 24.1, "type": "quantitative"}}
        },
        {
          "data": {"values": [{}]},
          "mark": {"type": "text", "text": "全机时域动态RCS走势", "fontSize": 66, "align": "left", "baseline": "middle", "color": "#000000"},
          "encoding": {"x": {"datum": 0.00493, "type": "quantitative"}, "y": {"datum": 47.1, "type": "quantitative"}}
        },
        {
          "data": {"values": [{}]},
          "mark": {"type": "text", "text": "旋翼旋转360°用时", "fontSize": 66, "align": "left", "baseline": "middle", "color": "#000000"},
          "encoding": {"x": {"datum": 0.00479, "type": "quantitative"}, "y": {"datum": 19.9, "type": "quantitative"}}
        },
        {
          "data": {"values": [{}]},
          "mark": {"type": "text", "text": "RCS幅值", "fontSize": 66, "align": "center", "baseline": "middle", "angle": 270, "color": "#000000"},
          "encoding": {"x": {"datum": 0.00298, "type": "quantitative"}, "y": {"datum": 34.9, "type": "quantitative"}}
        }
      ]
    },
    {
      "width": 1301,
      "height": 978,
      "title": {"text": "(b) 水平极化", "orient": "bottom", "offset": 35},
      "layer": [
        {
          "data": {"name": "horiz"},
          "transform": [{"fold": ["全机", "双旋翼+机身", "尾推桨+机身", "单独机身"], "as": ["系列", "RCS"]}],
          "mark": {"type": "line", "strokeWidth": 4, "clip": true},
          "encoding": {
            "x": {
              "field": "t", "type": "quantitative",
              "scale": {"domain": [0, 0.0605], "nice": false, "zero": false},
              "axis": {
                "title": "时间/s",
                "values": [0, 0.0075625, 0.015125, 0.0226875, 0.03025, 0.0378125, 0.045375, 0.0529375, 0.0605],
                "labelExpr": "datum.value < 1e-9 ? '0' : (round(datum.value*1e7) % 151250 != 0 ? '' : (round(datum.value*1e7) == 605000 ? '0.06050' : format(datum.value, '.6f')))",
                "tickSize": {"condition": {"test": "round(datum.value*1e7) % 151250 == 0", "value": -18}, "value": -11},
                "labelPadding": 37,
                "titlePadding": 16
              }
            },
            "y": {
              "field": "RCS", "type": "quantitative",
              "scale": {"domain": [-25, 50], "nice": false},
              "axis": {
                "title": "RCS幅值/dBsm",
                "values": [-25, -12.5, 0, 12.5, 25, 37.5, 50],
                "labelExpr": "datum.value % 25 == 0 ? datum.label : ''",
                "tickSize": {"condition": {"test": "datum.value % 25 == 0", "value": -18}, "value": -10},
                "labelPadding": 42,
                "titlePadding": 26
              }
            },
            "color": {
              "field": "系列", "type": "nominal",
              "scale": {"domain": ["全机", "双旋翼+机身", "尾推桨+机身", "单独机身"], "range": ["#000000", "#22dd22", "#1515c8", "#ff0000"]},
              "legend": {"title": null, "legendX": 754, "legendY": 79}
            },
            "strokeDash": {
              "field": "系列", "type": "nominal",
              "scale": {"domain": ["全机", "双旋翼+机身", "尾推桨+机身", "单独机身"], "range": [[1, 0], [11, 9], [3, 6], [28, 17]]},
              "legend": {"title": null, "legendX": 754, "legendY": 79}
            }
          }
        },
        {
          "data": {"name": "inset_b"},
          "mark": {"type": "line", "color": "#000000", "strokeWidth": 3},
          "encoding": {"x": {"field": "t", "type": "quantitative"}, "y": {"field": "RCS", "type": "quantitative"}}
        },
        {
          "data": {"values": [{}]},
          "mark": {"type": "rule", "color": "#000000", "strokeWidth": 4},
          "encoding": {"x": {"datum": 0.00628, "type": "quantitative"}, "y": {"datum": 23.8, "type": "quantitative"}, "y2": {"datum": 42.2}}
        },
        {
          "data": {"values": [{}]},
          "mark": {"type": "rule", "color": "#000000", "strokeWidth": 4},
          "encoding": {"x": {"datum": 0.00628, "type": "quantitative"}, "x2": {"datum": 0.0248}, "y": {"datum": 23.8, "type": "quantitative"}}
        },
        {
          "data": {"values": [{}]},
          "mark": {"type": "point", "shape": "triangle-up", "filled": true, "color": "#000000", "opacity": 1, "size": 1500},
          "encoding": {"x": {"datum": 0.00628, "type": "quantitative"}, "y": {"datum": 42.7, "type": "quantitative"}}
        },
        {
          "data": {"values": [{}]},
          "mark": {"type": "point", "shape": "triangle-right", "filled": true, "color": "#000000", "opacity": 1, "size": 1500},
          "encoding": {"x": {"datum": 0.02488, "type": "quantitative"}, "y": {"datum": 23.8, "type": "quantitative"}}
        },
        {
          "data": {"values": [{}]},
          "mark": {"type": "text", "text": "全机时域动态RCS走势", "fontSize": 66, "align": "left", "baseline": "middle", "color": "#000000"},
          "encoding": {"x": {"datum": 0.00442, "type": "quantitative"}, "y": {"datum": 46.8, "type": "quantitative"}}
        },
        {
          "data": {"values": [{}]},
          "mark": {"type": "text", "text": "旋翼旋转360°用时", "fontSize": 66, "align": "left", "baseline": "middle", "color": "#000000"},
          "encoding": {"x": {"datum": 0.00442, "type": "quantitative"}, "y": {"datum": 19.4, "type": "quantitative"}}
        },
        {
          "data": {"values": [{}]},
          "mark": {"type": "text", "text": "RCS幅值", "fontSize": 66, "align": "center", "baseline": "middle", "angle": 270, "color": "#000000"},
          "encoding": {"x": {"datum": 0.0034, "type": "quantitative"}, "y": {"datum": 32.2, "type": "quantitative"}}
        }
      ]
    }
  ]
}
